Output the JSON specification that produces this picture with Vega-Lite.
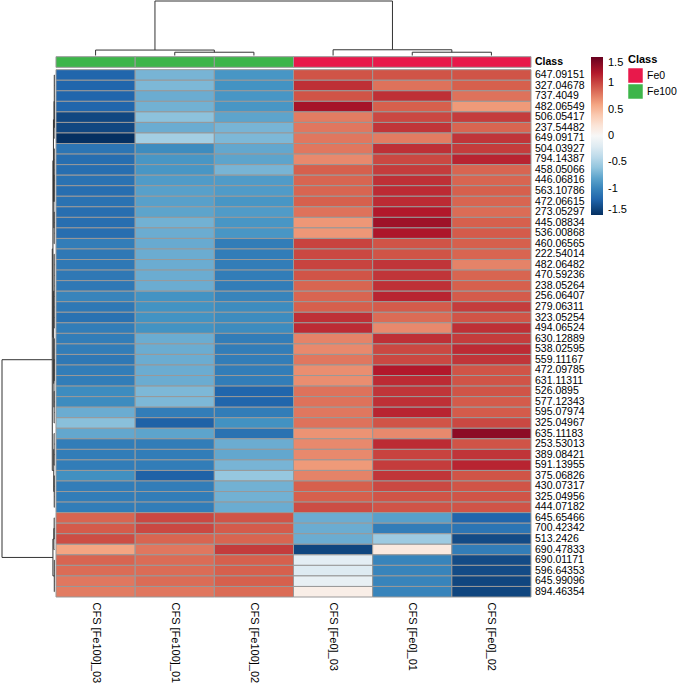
{
  "$schema": "https://vega.github.io/schema/vega-lite/v6.json",
  "width": 531,
  "height": 597,
  "autosize": {"type": "none"},
  "padding": {"left": 0, "top": 0, "right": 146, "bottom": 88},
  "background": "white",
  "config": {"view": {"stroke": null}, "font": "Liberation Sans"},
  "datasets": {
    "cells": [
      {"feature":"647.09151","sample":"CFS [Fe100]_03","z":-1.2},{"feature":"647.09151","sample":"CFS [Fe100]_01","z":-0.7},{"feature":"647.09151","sample":"CFS [Fe100]_02","z":-0.88},{"feature":"647.09151","sample":"CFS [Fe0]_03","z":0.95},{"feature":"647.09151","sample":"CFS [Fe0]_01","z":0.95},{"feature":"647.09151","sample":"CFS [Fe0]_02","z":0.95},
      {"feature":"327.04678","sample":"CFS [Fe100]_03","z":-1.2},{"feature":"327.04678","sample":"CFS [Fe100]_01","z":-0.68},{"feature":"327.04678","sample":"CFS [Fe100]_02","z":-0.9},{"feature":"327.04678","sample":"CFS [Fe0]_03","z":1.1},{"feature":"327.04678","sample":"CFS [Fe0]_01","z":0.82},{"feature":"327.04678","sample":"CFS [Fe0]_02","z":0.9},
      {"feature":"737.4049","sample":"CFS [Fe100]_03","z":-1.2},{"feature":"737.4049","sample":"CFS [Fe100]_01","z":-0.75},{"feature":"737.4049","sample":"CFS [Fe100]_02","z":-0.88},{"feature":"737.4049","sample":"CFS [Fe0]_03","z":0.95},{"feature":"737.4049","sample":"CFS [Fe0]_01","z":1.1},{"feature":"737.4049","sample":"CFS [Fe0]_02","z":0.82},
      {"feature":"482.06549","sample":"CFS [Fe100]_03","z":-1.2},{"feature":"482.06549","sample":"CFS [Fe100]_01","z":-0.72},{"feature":"482.06549","sample":"CFS [Fe100]_02","z":-0.88},{"feature":"482.06549","sample":"CFS [Fe0]_03","z":1.25},{"feature":"482.06549","sample":"CFS [Fe0]_01","z":0.9},{"feature":"482.06549","sample":"CFS [Fe0]_02","z":0.65},
      {"feature":"506.05417","sample":"CFS [Fe100]_03","z":-1.37},{"feature":"506.05417","sample":"CFS [Fe100]_01","z":-0.62},{"feature":"506.05417","sample":"CFS [Fe100]_02","z":-0.8},{"feature":"506.05417","sample":"CFS [Fe0]_03","z":0.78},{"feature":"506.05417","sample":"CFS [Fe0]_01","z":1.0},{"feature":"506.05417","sample":"CFS [Fe0]_02","z":1.05},
      {"feature":"237.54482","sample":"CFS [Fe100]_03","z":-1.37},{"feature":"237.54482","sample":"CFS [Fe100]_01","z":-0.75},{"feature":"237.54482","sample":"CFS [Fe100]_02","z":-0.7},{"feature":"237.54482","sample":"CFS [Fe0]_03","z":0.8},{"feature":"237.54482","sample":"CFS [Fe0]_01","z":1.08},{"feature":"237.54482","sample":"CFS [Fe0]_02","z":0.88},
      {"feature":"649.09171","sample":"CFS [Fe100]_03","z":-1.5},{"feature":"649.09171","sample":"CFS [Fe100]_01","z":-0.52},{"feature":"649.09171","sample":"CFS [Fe100]_02","z":-0.68},{"feature":"649.09171","sample":"CFS [Fe0]_03","z":0.8},{"feature":"649.09171","sample":"CFS [Fe0]_01","z":0.78},{"feature":"649.09171","sample":"CFS [Fe0]_02","z":1.08},
      {"feature":"504.03927","sample":"CFS [Fe100]_03","z":-1.1},{"feature":"504.03927","sample":"CFS [Fe100]_01","z":-0.95},{"feature":"504.03927","sample":"CFS [Fe100]_02","z":-0.78},{"feature":"504.03927","sample":"CFS [Fe0]_03","z":0.8},{"feature":"504.03927","sample":"CFS [Fe0]_01","z":1.1},{"feature":"504.03927","sample":"CFS [Fe0]_02","z":1.05},
      {"feature":"794.14387","sample":"CFS [Fe100]_03","z":-1.15},{"feature":"794.14387","sample":"CFS [Fe100]_01","z":-0.88},{"feature":"794.14387","sample":"CFS [Fe100]_02","z":-0.8},{"feature":"794.14387","sample":"CFS [Fe0]_03","z":0.72},{"feature":"794.14387","sample":"CFS [Fe0]_01","z":1.0},{"feature":"794.14387","sample":"CFS [Fe0]_02","z":1.15},
      {"feature":"458.05066","sample":"CFS [Fe100]_03","z":-1.15},{"feature":"458.05066","sample":"CFS [Fe100]_01","z":-0.88},{"feature":"458.05066","sample":"CFS [Fe100]_02","z":-0.7},{"feature":"458.05066","sample":"CFS [Fe0]_03","z":0.9},{"feature":"458.05066","sample":"CFS [Fe0]_01","z":1.05},{"feature":"458.05066","sample":"CFS [Fe0]_02","z":0.88},
      {"feature":"446.06816","sample":"CFS [Fe100]_03","z":-1.12},{"feature":"446.06816","sample":"CFS [Fe100]_01","z":-0.85},{"feature":"446.06816","sample":"CFS [Fe100]_02","z":-0.85},{"feature":"446.06816","sample":"CFS [Fe0]_03","z":0.88},{"feature":"446.06816","sample":"CFS [Fe0]_01","z":1.1},{"feature":"446.06816","sample":"CFS [Fe0]_02","z":0.88},
      {"feature":"563.10786","sample":"CFS [Fe100]_03","z":-1.15},{"feature":"563.10786","sample":"CFS [Fe100]_01","z":-0.82},{"feature":"563.10786","sample":"CFS [Fe100]_02","z":-0.85},{"feature":"563.10786","sample":"CFS [Fe0]_03","z":0.88},{"feature":"563.10786","sample":"CFS [Fe0]_01","z":1.12},{"feature":"563.10786","sample":"CFS [Fe0]_02","z":0.9},
      {"feature":"472.06615","sample":"CFS [Fe100]_03","z":-1.12},{"feature":"472.06615","sample":"CFS [Fe100]_01","z":-0.82},{"feature":"472.06615","sample":"CFS [Fe100]_02","z":-0.88},{"feature":"472.06615","sample":"CFS [Fe0]_03","z":0.9},{"feature":"472.06615","sample":"CFS [Fe0]_01","z":1.12},{"feature":"472.06615","sample":"CFS [Fe0]_02","z":0.88},
      {"feature":"273.05297","sample":"CFS [Fe100]_03","z":-1.15},{"feature":"273.05297","sample":"CFS [Fe100]_01","z":-0.8},{"feature":"273.05297","sample":"CFS [Fe100]_02","z":-0.85},{"feature":"273.05297","sample":"CFS [Fe0]_03","z":0.82},{"feature":"273.05297","sample":"CFS [Fe0]_01","z":1.2},{"feature":"273.05297","sample":"CFS [Fe0]_02","z":0.85},
      {"feature":"445.08834","sample":"CFS [Fe100]_03","z":-1.15},{"feature":"445.08834","sample":"CFS [Fe100]_01","z":-0.72},{"feature":"445.08834","sample":"CFS [Fe100]_02","z":-0.88},{"feature":"445.08834","sample":"CFS [Fe0]_03","z":0.66},{"feature":"445.08834","sample":"CFS [Fe0]_01","z":1.28},{"feature":"445.08834","sample":"CFS [Fe0]_02","z":0.9},
      {"feature":"536.00868","sample":"CFS [Fe100]_03","z":-1.15},{"feature":"536.00868","sample":"CFS [Fe100]_01","z":-0.75},{"feature":"536.00868","sample":"CFS [Fe100]_02","z":-0.88},{"feature":"536.00868","sample":"CFS [Fe0]_03","z":0.66},{"feature":"536.00868","sample":"CFS [Fe0]_01","z":1.22},{"feature":"536.00868","sample":"CFS [Fe0]_02","z":0.92},
      {"feature":"460.06565","sample":"CFS [Fe100]_03","z":-1.05},{"feature":"460.06565","sample":"CFS [Fe100]_01","z":-0.76},{"feature":"460.06565","sample":"CFS [Fe100]_02","z":-1.05},{"feature":"460.06565","sample":"CFS [Fe0]_03","z":1.02},{"feature":"460.06565","sample":"CFS [Fe0]_01","z":0.95},{"feature":"460.06565","sample":"CFS [Fe0]_02","z":0.9},
      {"feature":"222.54014","sample":"CFS [Fe100]_03","z":-1.08},{"feature":"222.54014","sample":"CFS [Fe100]_01","z":-0.75},{"feature":"222.54014","sample":"CFS [Fe100]_02","z":-1.05},{"feature":"222.54014","sample":"CFS [Fe0]_03","z":1.0},{"feature":"222.54014","sample":"CFS [Fe0]_01","z":0.95},{"feature":"222.54014","sample":"CFS [Fe0]_02","z":0.88},
      {"feature":"482.06482","sample":"CFS [Fe100]_03","z":-1.08},{"feature":"482.06482","sample":"CFS [Fe100]_01","z":-0.75},{"feature":"482.06482","sample":"CFS [Fe100]_02","z":-1.05},{"feature":"482.06482","sample":"CFS [Fe0]_03","z":1.02},{"feature":"482.06482","sample":"CFS [Fe0]_01","z":1.08},{"feature":"482.06482","sample":"CFS [Fe0]_02","z":0.75},
      {"feature":"470.59236","sample":"CFS [Fe100]_03","z":-1.08},{"feature":"470.59236","sample":"CFS [Fe100]_01","z":-0.75},{"feature":"470.59236","sample":"CFS [Fe100]_02","z":-1.05},{"feature":"470.59236","sample":"CFS [Fe0]_03","z":0.95},{"feature":"470.59236","sample":"CFS [Fe0]_01","z":1.08},{"feature":"470.59236","sample":"CFS [Fe0]_02","z":0.88},
      {"feature":"238.05264","sample":"CFS [Fe100]_03","z":-1.08},{"feature":"238.05264","sample":"CFS [Fe100]_01","z":-0.75},{"feature":"238.05264","sample":"CFS [Fe100]_02","z":-1.05},{"feature":"238.05264","sample":"CFS [Fe0]_03","z":0.88},{"feature":"238.05264","sample":"CFS [Fe0]_01","z":1.1},{"feature":"238.05264","sample":"CFS [Fe0]_02","z":0.9},
      {"feature":"256.06407","sample":"CFS [Fe100]_03","z":-1.0},{"feature":"256.06407","sample":"CFS [Fe100]_01","z":-0.9},{"feature":"256.06407","sample":"CFS [Fe100]_02","z":-1.0},{"feature":"256.06407","sample":"CFS [Fe0]_03","z":0.88},{"feature":"256.06407","sample":"CFS [Fe0]_01","z":1.15},{"feature":"256.06407","sample":"CFS [Fe0]_02","z":0.92},
      {"feature":"279.06311","sample":"CFS [Fe100]_03","z":-1.08},{"feature":"279.06311","sample":"CFS [Fe100]_01","z":-0.9},{"feature":"279.06311","sample":"CFS [Fe100]_02","z":-0.95},{"feature":"279.06311","sample":"CFS [Fe0]_03","z":0.9},{"feature":"279.06311","sample":"CFS [Fe0]_01","z":0.92},{"feature":"279.06311","sample":"CFS [Fe0]_02","z":1.05},
      {"feature":"323.05254","sample":"CFS [Fe100]_03","z":-1.12},{"feature":"323.05254","sample":"CFS [Fe100]_01","z":-0.9},{"feature":"323.05254","sample":"CFS [Fe100]_02","z":-0.95},{"feature":"323.05254","sample":"CFS [Fe0]_03","z":1.1},{"feature":"323.05254","sample":"CFS [Fe0]_01","z":0.85},{"feature":"323.05254","sample":"CFS [Fe0]_02","z":0.95},
      {"feature":"494.06524","sample":"CFS [Fe100]_03","z":-1.05},{"feature":"494.06524","sample":"CFS [Fe100]_01","z":-0.9},{"feature":"494.06524","sample":"CFS [Fe100]_02","z":-0.95},{"feature":"494.06524","sample":"CFS [Fe0]_03","z":1.12},{"feature":"494.06524","sample":"CFS [Fe0]_01","z":0.72},{"feature":"494.06524","sample":"CFS [Fe0]_02","z":1.1},
      {"feature":"630.12889","sample":"CFS [Fe100]_03","z":-1.05},{"feature":"630.12889","sample":"CFS [Fe100]_01","z":-0.75},{"feature":"630.12889","sample":"CFS [Fe100]_02","z":-1.05},{"feature":"630.12889","sample":"CFS [Fe0]_03","z":0.75},{"feature":"630.12889","sample":"CFS [Fe0]_01","z":1.1},{"feature":"630.12889","sample":"CFS [Fe0]_02","z":1.05},
      {"feature":"538.02595","sample":"CFS [Fe100]_03","z":-1.05},{"feature":"538.02595","sample":"CFS [Fe100]_01","z":-0.75},{"feature":"538.02595","sample":"CFS [Fe100]_02","z":-1.05},{"feature":"538.02595","sample":"CFS [Fe0]_03","z":0.72},{"feature":"538.02595","sample":"CFS [Fe0]_01","z":1.0},{"feature":"538.02595","sample":"CFS [Fe0]_02","z":1.12},
      {"feature":"559.11167","sample":"CFS [Fe100]_03","z":-1.08},{"feature":"559.11167","sample":"CFS [Fe100]_01","z":-0.75},{"feature":"559.11167","sample":"CFS [Fe100]_02","z":-1.05},{"feature":"559.11167","sample":"CFS [Fe0]_03","z":0.8},{"feature":"559.11167","sample":"CFS [Fe0]_01","z":1.0},{"feature":"559.11167","sample":"CFS [Fe0]_02","z":1.08},
      {"feature":"472.09785","sample":"CFS [Fe100]_03","z":-1.05},{"feature":"472.09785","sample":"CFS [Fe100]_01","z":-0.75},{"feature":"472.09785","sample":"CFS [Fe100]_02","z":-1.05},{"feature":"472.09785","sample":"CFS [Fe0]_03","z":0.7},{"feature":"472.09785","sample":"CFS [Fe0]_01","z":1.2},{"feature":"472.09785","sample":"CFS [Fe0]_02","z":0.95},
      {"feature":"631.11311","sample":"CFS [Fe100]_03","z":-1.05},{"feature":"631.11311","sample":"CFS [Fe100]_01","z":-0.75},{"feature":"631.11311","sample":"CFS [Fe100]_02","z":-1.05},{"feature":"631.11311","sample":"CFS [Fe0]_03","z":0.7},{"feature":"631.11311","sample":"CFS [Fe0]_01","z":1.12},{"feature":"631.11311","sample":"CFS [Fe0]_02","z":0.95},
      {"feature":"526.0895","sample":"CFS [Fe100]_03","z":-0.95},{"feature":"526.0895","sample":"CFS [Fe100]_01","z":-0.68},{"feature":"526.0895","sample":"CFS [Fe100]_02","z":-1.2},{"feature":"526.0895","sample":"CFS [Fe0]_03","z":0.82},{"feature":"526.0895","sample":"CFS [Fe0]_01","z":1.08},{"feature":"526.0895","sample":"CFS [Fe0]_02","z":0.95},
      {"feature":"577.12343","sample":"CFS [Fe100]_03","z":-0.95},{"feature":"577.12343","sample":"CFS [Fe100]_01","z":-0.68},{"feature":"577.12343","sample":"CFS [Fe100]_02","z":-1.2},{"feature":"577.12343","sample":"CFS [Fe0]_03","z":0.82},{"feature":"577.12343","sample":"CFS [Fe0]_01","z":1.1},{"feature":"577.12343","sample":"CFS [Fe0]_02","z":0.92},
      {"feature":"595.07974","sample":"CFS [Fe100]_03","z":-0.75},{"feature":"595.07974","sample":"CFS [Fe100]_01","z":-1.05},{"feature":"595.07974","sample":"CFS [Fe100]_02","z":-1.05},{"feature":"595.07974","sample":"CFS [Fe0]_03","z":0.8},{"feature":"595.07974","sample":"CFS [Fe0]_01","z":1.15},{"feature":"595.07974","sample":"CFS [Fe0]_02","z":0.92},
      {"feature":"325.04967","sample":"CFS [Fe100]_03","z":-0.63},{"feature":"325.04967","sample":"CFS [Fe100]_01","z":-1.22},{"feature":"325.04967","sample":"CFS [Fe100]_02","z":-0.91},{"feature":"325.04967","sample":"CFS [Fe0]_03","z":0.82},{"feature":"325.04967","sample":"CFS [Fe0]_01","z":0.95},{"feature":"325.04967","sample":"CFS [Fe0]_02","z":1.0},
      {"feature":"635.11183","sample":"CFS [Fe100]_03","z":-0.78},{"feature":"635.11183","sample":"CFS [Fe100]_01","z":-0.8},{"feature":"635.11183","sample":"CFS [Fe100]_02","z":-1.12},{"feature":"635.11183","sample":"CFS [Fe0]_03","z":0.68},{"feature":"635.11183","sample":"CFS [Fe0]_01","z":0.72},{"feature":"635.11183","sample":"CFS [Fe0]_02","z":1.35},
      {"feature":"253.53013","sample":"CFS [Fe100]_03","z":-1.05},{"feature":"253.53013","sample":"CFS [Fe100]_01","z":-1.05},{"feature":"253.53013","sample":"CFS [Fe100]_02","z":-0.75},{"feature":"253.53013","sample":"CFS [Fe0]_03","z":0.72},{"feature":"253.53013","sample":"CFS [Fe0]_01","z":1.12},{"feature":"253.53013","sample":"CFS [Fe0]_02","z":0.95},
      {"feature":"389.08421","sample":"CFS [Fe100]_03","z":-1.05},{"feature":"389.08421","sample":"CFS [Fe100]_01","z":-1.05},{"feature":"389.08421","sample":"CFS [Fe100]_02","z":-0.78},{"feature":"389.08421","sample":"CFS [Fe0]_03","z":0.72},{"feature":"389.08421","sample":"CFS [Fe0]_01","z":1.02},{"feature":"389.08421","sample":"CFS [Fe0]_02","z":1.08},
      {"feature":"591.13955","sample":"CFS [Fe100]_03","z":-1.05},{"feature":"591.13955","sample":"CFS [Fe100]_01","z":-1.05},{"feature":"591.13955","sample":"CFS [Fe100]_02","z":-0.7},{"feature":"591.13955","sample":"CFS [Fe0]_03","z":0.65},{"feature":"591.13955","sample":"CFS [Fe0]_01","z":1.05},{"feature":"591.13955","sample":"CFS [Fe0]_02","z":1.15},
      {"feature":"375.06826","sample":"CFS [Fe100]_03","z":-0.92},{"feature":"375.06826","sample":"CFS [Fe100]_01","z":-1.22},{"feature":"375.06826","sample":"CFS [Fe100]_02","z":-0.58},{"feature":"375.06826","sample":"CFS [Fe0]_03","z":0.75},{"feature":"375.06826","sample":"CFS [Fe0]_01","z":1.08},{"feature":"375.06826","sample":"CFS [Fe0]_02","z":0.95},
      {"feature":"430.07317","sample":"CFS [Fe100]_03","z":-1.05},{"feature":"430.07317","sample":"CFS [Fe100]_01","z":-1.05},{"feature":"430.07317","sample":"CFS [Fe100]_02","z":-0.72},{"feature":"430.07317","sample":"CFS [Fe0]_03","z":0.9},{"feature":"430.07317","sample":"CFS [Fe0]_01","z":1.0},{"feature":"430.07317","sample":"CFS [Fe0]_02","z":0.95},
      {"feature":"325.04956","sample":"CFS [Fe100]_03","z":-1.05},{"feature":"325.04956","sample":"CFS [Fe100]_01","z":-1.05},{"feature":"325.04956","sample":"CFS [Fe100]_02","z":-0.72},{"feature":"325.04956","sample":"CFS [Fe0]_03","z":0.9},{"feature":"325.04956","sample":"CFS [Fe0]_01","z":0.95},{"feature":"325.04956","sample":"CFS [Fe0]_02","z":0.95},
      {"feature":"444.07182","sample":"CFS [Fe100]_03","z":-1.05},{"feature":"444.07182","sample":"CFS [Fe100]_01","z":-1.05},{"feature":"444.07182","sample":"CFS [Fe100]_02","z":-0.75},{"feature":"444.07182","sample":"CFS [Fe0]_03","z":0.98},{"feature":"444.07182","sample":"CFS [Fe0]_01","z":0.95},{"feature":"444.07182","sample":"CFS [Fe0]_02","z":0.95},
      {"feature":"645.65466","sample":"CFS [Fe100]_03","z":0.88},{"feature":"645.65466","sample":"CFS [Fe100]_01","z":1.0},{"feature":"645.65466","sample":"CFS [Fe100]_02","z":0.95},{"feature":"645.65466","sample":"CFS [Fe0]_03","z":-0.75},{"feature":"645.65466","sample":"CFS [Fe0]_01","z":-0.82},{"feature":"645.65466","sample":"CFS [Fe0]_02","z":-1.2},
      {"feature":"700.42342","sample":"CFS [Fe100]_03","z":0.92},{"feature":"700.42342","sample":"CFS [Fe100]_01","z":1.0},{"feature":"700.42342","sample":"CFS [Fe100]_02","z":0.92},{"feature":"700.42342","sample":"CFS [Fe0]_03","z":-0.75},{"feature":"700.42342","sample":"CFS [Fe0]_01","z":-1.05},{"feature":"700.42342","sample":"CFS [Fe0]_02","z":-1.1},
      {"feature":"513.2426","sample":"CFS [Fe100]_03","z":0.98},{"feature":"513.2426","sample":"CFS [Fe100]_01","z":0.88},{"feature":"513.2426","sample":"CFS [Fe100]_02","z":0.88},{"feature":"513.2426","sample":"CFS [Fe0]_03","z":-0.75},{"feature":"513.2426","sample":"CFS [Fe0]_01","z":-0.55},{"feature":"513.2426","sample":"CFS [Fe0]_02","z":-1.35},
      {"feature":"690.47833","sample":"CFS [Fe100]_03","z":0.6},{"feature":"690.47833","sample":"CFS [Fe100]_01","z":0.8},{"feature":"690.47833","sample":"CFS [Fe100]_02","z":1.05},{"feature":"690.47833","sample":"CFS [Fe0]_03","z":-1.38},{"feature":"690.47833","sample":"CFS [Fe0]_01","z":0.15},{"feature":"690.47833","sample":"CFS [Fe0]_02","z":-1.05},
      {"feature":"690.01171","sample":"CFS [Fe100]_03","z":0.88},{"feature":"690.01171","sample":"CFS [Fe100]_01","z":0.85},{"feature":"690.01171","sample":"CFS [Fe100]_02","z":0.9},{"feature":"690.01171","sample":"CFS [Fe0]_03","z":-0.15},{"feature":"690.01171","sample":"CFS [Fe0]_01","z":-1.0},{"feature":"690.01171","sample":"CFS [Fe0]_02","z":-1.35},
      {"feature":"596.64353","sample":"CFS [Fe100]_03","z":0.85},{"feature":"596.64353","sample":"CFS [Fe100]_01","z":0.85},{"feature":"596.64353","sample":"CFS [Fe100]_02","z":0.9},{"feature":"596.64353","sample":"CFS [Fe0]_03","z":-0.2},{"feature":"596.64353","sample":"CFS [Fe0]_01","z":-1.0},{"feature":"596.64353","sample":"CFS [Fe0]_02","z":-1.35},
      {"feature":"645.99096","sample":"CFS [Fe100]_03","z":0.8},{"feature":"645.99096","sample":"CFS [Fe100]_01","z":0.85},{"feature":"645.99096","sample":"CFS [Fe100]_02","z":0.9},{"feature":"645.99096","sample":"CFS [Fe0]_03","z":-0.12},{"feature":"645.99096","sample":"CFS [Fe0]_01","z":-1.0},{"feature":"645.99096","sample":"CFS [Fe0]_02","z":-1.38},
      {"feature":"894.46354","sample":"CFS [Fe100]_03","z":0.78},{"feature":"894.46354","sample":"CFS [Fe100]_01","z":0.8},{"feature":"894.46354","sample":"CFS [Fe100]_02","z":0.85},{"feature":"894.46354","sample":"CFS [Fe0]_03","z":0.1},{"feature":"894.46354","sample":"CFS [Fe0]_01","z":-1.0},{"feature":"894.46354","sample":"CFS [Fe0]_02","z":-1.38}
    ],
    "classes": [
      {"sample":"CFS [Fe100]_03","class":"Fe100","track":"Class"},
      {"sample":"CFS [Fe100]_01","class":"Fe100","track":"Class"},
      {"sample":"CFS [Fe100]_02","class":"Fe100","track":"Class"},
      {"sample":"CFS [Fe0]_03","class":"Fe0","track":"Class"},
      {"sample":"CFS [Fe0]_01","class":"Fe0","track":"Class"},
      {"sample":"CFS [Fe0]_02","class":"Fe0","track":"Class"}
    ],
    "colTree": [
      {"pos":1.5,"pos2":1.5,"h":0,"h2":0.6},{"pos":2.5,"pos2":2.5,"h":0,"h2":0.6},{"pos":1.5,"pos2":2.5,"h":0.6,"h2":0.6},
      {"pos":0.5,"pos2":0.5,"h":0,"h2":1.0},{"pos":2.0,"pos2":2.0,"h":0.6,"h2":1.0},{"pos":0.5,"pos2":2.0,"h":1.0,"h2":1.0},
      {"pos":4.5,"pos2":4.5,"h":0,"h2":0.6},{"pos":5.5,"pos2":5.5,"h":0,"h2":0.6},{"pos":4.5,"pos2":5.5,"h":0.6,"h2":0.6},
      {"pos":3.5,"pos2":3.5,"h":0,"h2":1.05},{"pos":5.0,"pos2":5.0,"h":0.6,"h2":1.05},{"pos":3.5,"pos2":5.0,"h":1.05,"h2":1.05},
      {"pos":1.25,"pos2":1.25,"h":1.0,"h2":10},{"pos":4.25,"pos2":4.25,"h":1.05,"h2":10},{"pos":1.25,"pos2":4.25,"h":10,"h2":10}
    ],
    "rowTree": [
      {"pos":0.5,"pos2":0.5,"h":0,"h2":0.04},{"pos":1.5,"pos2":1.5,"h":0,"h2":0.04},{"pos":2.5,"pos2":2.5,"h":0,"h2":0.04},{"pos":3.5,"pos2":3.5,"h":0,"h2":0.04},{"pos":4.5,"pos2":4.5,"h":0,"h2":0.04},{"pos":5.5,"pos2":5.5,"h":0,"h2":0.04},
      {"pos":0.5,"pos2":5.5,"h":0.04,"h2":0.04},
      {"pos":6.5,"pos2":6.5,"h":0,"h2":0.08},{"pos":3.0,"pos2":3.0,"h":0.04,"h2":0.08},{"pos":3.0,"pos2":6.5,"h":0.08,"h2":0.08},
      {"pos":7.5,"pos2":7.5,"h":0,"h2":0.05},{"pos":8.5,"pos2":8.5,"h":0,"h2":0.05},{"pos":9.5,"pos2":9.5,"h":0,"h2":0.05},{"pos":10.5,"pos2":10.5,"h":0,"h2":0.05},{"pos":11.5,"pos2":11.5,"h":0,"h2":0.05},{"pos":12.5,"pos2":12.5,"h":0,"h2":0.05},
      {"pos":7.5,"pos2":12.5,"h":0.05,"h2":0.05},
      {"pos":13.5,"pos2":13.5,"h":0,"h2":0.06},{"pos":14.5,"pos2":14.5,"h":0,"h2":0.06},{"pos":15.5,"pos2":15.5,"h":0,"h2":0.06},{"pos":16.5,"pos2":16.5,"h":0,"h2":0.06},
      {"pos":13.5,"pos2":16.5,"h":0.06,"h2":0.06},
      {"pos":10.0,"pos2":10.0,"h":0.05,"h2":0.12},{"pos":15.0,"pos2":15.0,"h":0.06,"h2":0.12},{"pos":10.0,"pos2":15.0,"h":0.12,"h2":0.12},
      {"pos":4.75,"pos2":4.75,"h":0.08,"h2":0.2},{"pos":12.5,"pos2":12.5,"h":0.12,"h2":0.2},{"pos":4.75,"pos2":12.5,"h":0.2,"h2":0.2},
      {"pos":17.5,"pos2":17.5,"h":0,"h2":0.06},{"pos":18.5,"pos2":18.5,"h":0,"h2":0.06},{"pos":19.5,"pos2":19.5,"h":0,"h2":0.06},{"pos":20.5,"pos2":20.5,"h":0,"h2":0.06},{"pos":21.5,"pos2":21.5,"h":0,"h2":0.06},{"pos":22.5,"pos2":22.5,"h":0,"h2":0.06},{"pos":23.5,"pos2":23.5,"h":0,"h2":0.06},{"pos":24.5,"pos2":24.5,"h":0,"h2":0.06},
      {"pos":17.5,"pos2":24.5,"h":0.06,"h2":0.06},
      {"pos":25.5,"pos2":25.5,"h":0,"h2":0.05},{"pos":26.5,"pos2":26.5,"h":0,"h2":0.05},{"pos":27.5,"pos2":27.5,"h":0,"h2":0.05},{"pos":28.5,"pos2":28.5,"h":0,"h2":0.05},{"pos":29.5,"pos2":29.5,"h":0,"h2":0.05},
      {"pos":25.5,"pos2":29.5,"h":0.05,"h2":0.05},
      {"pos":30.5,"pos2":30.5,"h":0,"h2":0.07},{"pos":31.5,"pos2":31.5,"h":0,"h2":0.07},{"pos":32.5,"pos2":32.5,"h":0,"h2":0.07},{"pos":33.5,"pos2":33.5,"h":0,"h2":0.07},
      {"pos":30.5,"pos2":33.5,"h":0.07,"h2":0.07},
      {"pos":27.5,"pos2":27.5,"h":0.05,"h2":0.11},{"pos":32.0,"pos2":32.0,"h":0.07,"h2":0.11},{"pos":27.5,"pos2":32.0,"h":0.11,"h2":0.11},
      {"pos":21.0,"pos2":21.0,"h":0.06,"h2":0.16},{"pos":29.75,"pos2":29.75,"h":0.11,"h2":0.16},{"pos":21.0,"pos2":29.75,"h":0.16,"h2":0.16},
      {"pos":8.625,"pos2":8.625,"h":0.2,"h2":0.3},{"pos":25.375,"pos2":25.375,"h":0.16,"h2":0.3},{"pos":8.625,"pos2":25.375,"h":0.3,"h2":0.3},
      {"pos":34.5,"pos2":34.5,"h":0,"h2":0.08},{"pos":35.5,"pos2":35.5,"h":0,"h2":0.08},{"pos":36.5,"pos2":36.5,"h":0,"h2":0.08},{"pos":37.5,"pos2":37.5,"h":0,"h2":0.08},
      {"pos":34.5,"pos2":37.5,"h":0.08,"h2":0.08},
      {"pos":38.5,"pos2":38.5,"h":0,"h2":0.05},{"pos":39.5,"pos2":39.5,"h":0,"h2":0.05},{"pos":40.5,"pos2":40.5,"h":0,"h2":0.05},{"pos":41.5,"pos2":41.5,"h":0,"h2":0.05},
      {"pos":38.5,"pos2":41.5,"h":0.05,"h2":0.05},
      {"pos":36.0,"pos2":36.0,"h":0.08,"h2":0.14},{"pos":40.0,"pos2":40.0,"h":0.05,"h2":0.14},{"pos":36.0,"pos2":40.0,"h":0.14,"h2":0.14},
      {"pos":17.0,"pos2":17.0,"h":0.3,"h2":0.42},{"pos":38.0,"pos2":38.0,"h":0.14,"h2":0.42},{"pos":17.0,"pos2":38.0,"h":0.42,"h2":0.42},
      {"pos":42.5,"pos2":42.5,"h":0,"h2":0.06},{"pos":43.5,"pos2":43.5,"h":0,"h2":0.06},{"pos":44.5,"pos2":44.5,"h":0,"h2":0.06},
      {"pos":42.5,"pos2":44.5,"h":0.06,"h2":0.06},
      {"pos":45.5,"pos2":45.5,"h":0,"h2":0.12},{"pos":43.5,"pos2":43.5,"h":0.06,"h2":0.12},{"pos":43.5,"pos2":45.5,"h":0.12,"h2":0.12},
      {"pos":46.5,"pos2":46.5,"h":0,"h2":0.04},{"pos":47.5,"pos2":47.5,"h":0,"h2":0.04},{"pos":48.5,"pos2":48.5,"h":0,"h2":0.04},{"pos":49.5,"pos2":49.5,"h":0,"h2":0.04},
      {"pos":46.5,"pos2":49.5,"h":0.04,"h2":0.04},
      {"pos":44.5,"pos2":44.5,"h":0.12,"h2":0.3},{"pos":48.0,"pos2":48.0,"h":0.04,"h2":0.3},{"pos":44.5,"pos2":48.0,"h":0.3,"h2":0.3},
      {"pos":27.5,"pos2":27.5,"h":0.42,"h2":10},{"pos":46.25,"pos2":46.25,"h":0.3,"h2":10},{"pos":27.5,"pos2":46.25,"h":10,"h2":10}
    ]
  },
  "layer": [
    {
      "data": {"name": "cells"},
      "mark": {"type": "rect", "stroke": "#999999", "strokeWidth": 1},
      "encoding": {
        "x": {
          "field": "sample", "type": "nominal", "sort": null,
          "scale": {"range": [56, 531], "paddingInner": 0, "paddingOuter": 0},
          "axis": {"orient": "bottom", "title": null, "labelAngle": 90, "labelAlign": "left", "labelBaseline": "middle", "ticks": false, "domain": false, "labelPadding": 5, "labelFontSize": 11, "labelColor": "#000000", "labelOverlap": false}
        },
        "y": {
          "field": "feature", "type": "nominal", "sort": null,
          "scale": {"range": [69.7, 597], "paddingInner": 0, "paddingOuter": 0},
          "axis": {"orient": "right", "title": null, "ticks": false, "domain": false, "labelPadding": 3.5, "labelFontSize": 10.5, "labelColor": "#000000", "labelOverlap": false}
        },
        "color": {
          "field": "z", "type": "quantitative",
          "scale": {
            "domain": [-1.5, -1.2, -0.9, -0.6, -0.3, 0, 0.3, 0.6, 0.9, 1.2, 1.5],
            "range": ["#053061", "#2166ac", "#4393c3", "#92c5de", "#d1e5f0", "#f7f7f7", "#fddbc7", "#f4a582", "#d6604d", "#b2182b", "#67001f"],
            "interpolate": "rgb", "nice": false, "clamp": true
          },
          "legend": {"orient": "none", "legendX": 591, "legendY": 57, "title": null, "direction": "vertical", "gradientLength": 158, "gradientThickness": 12, "gradientStrokeWidth": 0, "values": [-1.5, -1, -0.5, 0, 0.5, 1, 1.5], "labelExpr": "'' + datum.value", "labelFontSize": 11, "labelOffset": 5, "labelColor": "#000000", "labelOverlap": false}
        }
      }
    },
    {
      "data": {"name": "classes"},
      "mark": {"type": "rect", "stroke": "#999999", "strokeWidth": 1},
      "encoding": {
        "x": {"field": "sample", "type": "nominal", "sort": null, "scale": {"range": [56, 531], "paddingInner": 0, "paddingOuter": 0}, "axis": null},
        "y": {
          "field": "track", "type": "nominal",
          "scale": {"range": [56.7, 67.3], "paddingInner": 0, "paddingOuter": 0},
          "axis": {"orient": "right", "title": null, "ticks": false, "domain": false, "labelPadding": 3.5, "labelFontSize": 10.5, "labelFontWeight": "bold", "labelColor": "#000000"}
        },
        "fill": {
          "field": "class", "type": "nominal",
          "scale": {"domain": ["Fe0", "Fe100"], "range": ["#E8194B", "#3DB54A"]},
          "legend": {"orient": "none", "legendX": 628, "legendY": 54, "title": "Class", "titleFontSize": 11, "titleFontWeight": "bold", "titleColor": "#000000", "titlePadding": 3, "symbolType": "square", "symbolSize": 210, "symbolStrokeWidth": 0, "labelFontSize": 10.5, "labelOffset": 4, "labelColor": "#000000", "rowPadding": 1}
        }
      }
    },
    {
      "data": {"name": "colTree"},
      "mark": {"type": "rule", "color": "#333333", "strokeWidth": 1},
      "encoding": {
        "x": {"field": "pos", "type": "quantitative", "scale": {"domain": [0, 6], "range": [56, 531], "nice": false, "zero": false}, "axis": null},
        "x2": {"field": "pos2"},
        "y": {"field": "h", "type": "quantitative", "scale": {"domain": [0, 10], "range": [55.5, 1], "nice": false, "zero": false}, "axis": null},
        "y2": {"field": "h2"}
      }
    },
    {
      "data": {"name": "rowTree"},
      "mark": {"type": "rule", "color": "#333333", "strokeWidth": 1},
      "encoding": {
        "y": {"field": "pos", "type": "quantitative", "scale": {"domain": [0, 50], "range": [69.7, 597], "nice": false, "zero": false}, "axis": null},
        "y2": {"field": "pos2"},
        "x": {"field": "h", "type": "quantitative", "scale": {"domain": [0, 10], "range": [54.5, 2], "nice": false, "zero": false}, "axis": null},
        "x2": {"field": "h2"}
      }
    }
  ],
  "resolve": {"scale": {"x": "independent", "y": "independent"}}
}
